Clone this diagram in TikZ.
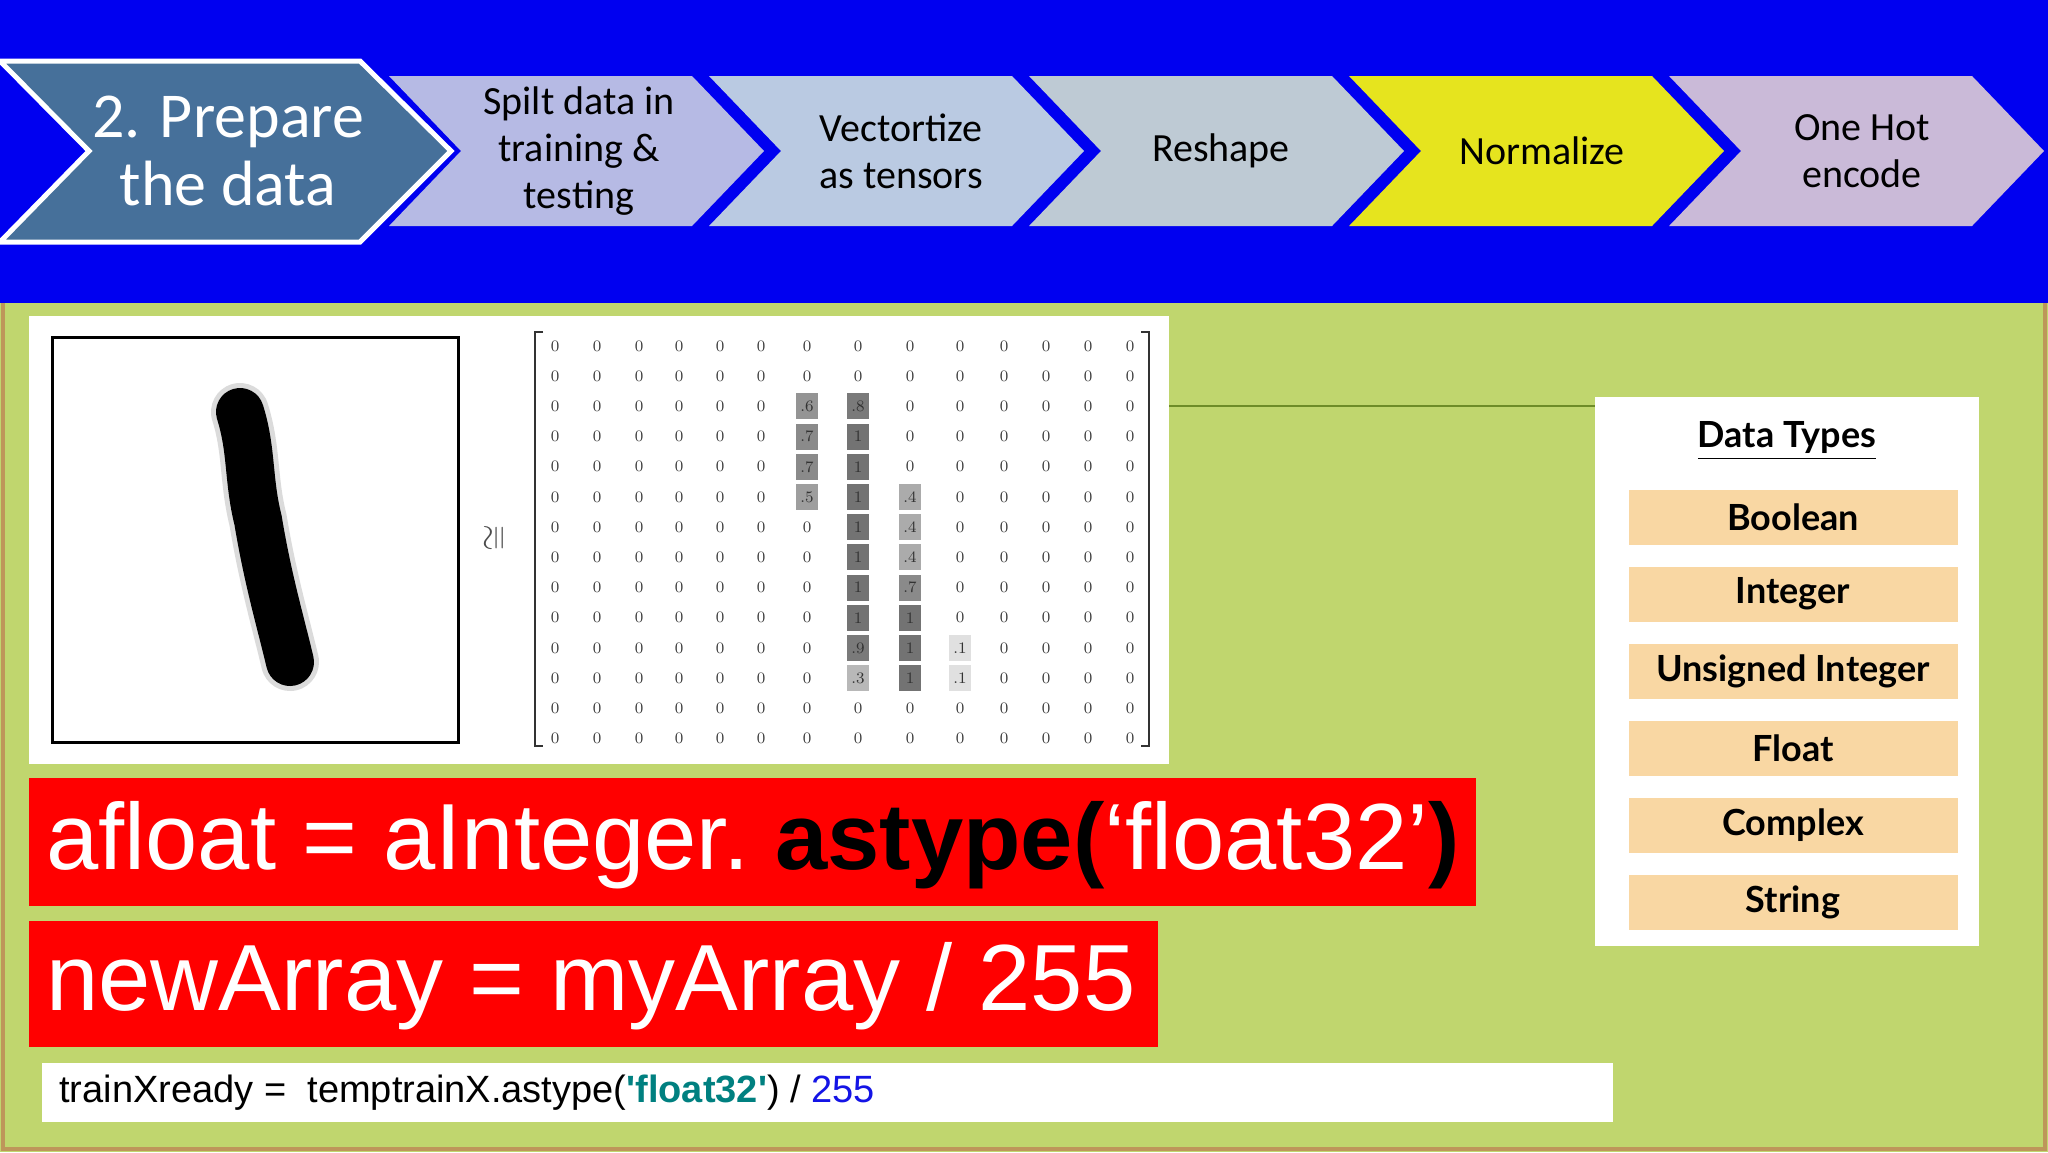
\documentclass[tikz,border=0pt]{standalone}
\usepackage{fontspec}
\setmainfont{Carlito}
\newfontfamily\arialf{Liberation Sans}
\newfontfamily\latof{Lato}
\newfontfamily\lmf{Latin Modern Roman}
\usepackage{amssymb}
\definecolor{topblue}{RGB}{0,0,240}
\definecolor{bggreen}{RGB}{192,214,110}
\definecolor{chevA}{RGB}{70,112,154}
\definecolor{chevB}{RGB}{182,186,228}
\definecolor{chevC}{RGB}{186,202,226}
\definecolor{chevD}{RGB}{190,202,212}
\definecolor{chevE}{RGB}{230,228,30}
\definecolor{chevF}{RGB}{202,186,216}
\definecolor{peach}{RGB}{249,215,163}
\definecolor{redbox}{RGB}{255,0,0}
\definecolor{tealc}{RGB}{0,128,128}
\definecolor{codeblue}{RGB}{20,20,230}
\tikzset{
 chevtext/.style={align=center,font=\fontsize{20}{23.5}\selectfont,text=black},
 dtbox/.style={fill=peach,minimum width=164.5pt,minimum height=27.5pt,inner sep=0pt,font=\latof\bfseries\fontsize{18}{20}\selectfont},
 cell/.style={font=\lmf\fontsize{8}{9}\selectfont,text=black!75,inner sep=1pt},
 bigcode/.style={anchor=west,text=white,font=\arialf\fontsize{47}{50}\selectfont,inner sep=0pt}
}
\begin{document}
\begin{tikzpicture}[x=0.5pt,y=-0.5pt]
\useasboundingbox (0,0) rectangle (2048,1152);
\fill[topblue] (0,0) rectangle (2048,303);
\fill[bggreen] (0,303) rectangle (2048,1152);
\draw[color={rgb,255:red,190;green,150;blue,90},line width=2pt] (3,303) -- (3,1149) -- (2045,1149) -- (2045,303);
\draw[white,line width=2.5pt,fill=chevA] (0,61) -- (360,61) -- (451,151) -- (360,242) -- (0,242) -- (89,151) -- cycle;
\node[align=center,text=white,font=\fontsize{32}{34}\selectfont] (c1) at (228,151) {2. Prepare\\the data};
\foreach \i/\col in {0/chevB,1/chevC,2/chevD,3/chevE,4/chevF}{
  \fill[\col] ({389+320*\i},76) -- ({389+320*\i+303},76) -- ({389+320*\i+375},151) -- ({389+320*\i+303},226) -- ({389+320*\i},226) -- ({389+320*\i+72},151) -- cycle;
}
\node[chevtext] (c2) at (579,151) {Spilt data in\\training \&\\testing};
\node[chevtext] (c3) at (901,151) {Vectortize\\as tensors};
\node[chevtext] (c4) at (1221,151) {Reshape};
\node[chevtext] (c5) at (1542,151) {Normalize};
\node[chevtext] (c6) at (1862,151) {One Hot\\encode};
\fill[white] (29,316) rectangle (1169,764);
\draw[line width=1.5pt] (52,337) rectangle (458,742);
\draw[black!40,line width=29pt,line cap=round,line join=round,opacity=0.35] (240,412) .. controls (252,450) and (248,480) .. (258,520) .. controls (268,580) and (280,620) .. (290,662);
\draw[black,line width=24pt,line cap=round,line join=round] (240,412) .. controls (252,450) and (248,480) .. (258,520) .. controls (268,580) and (280,620) .. (290,662);
\node[rotate=90,font=\fontsize{16}{16}\selectfont,text=black!70] (cong) at (496,538) {$\cong$};
\draw[black!80,line width=1.2pt] (543,332) -- (535,332) -- (535,746) -- (543,746);
\draw[black!80,line width=1.2pt] (1141,332) -- (1149,332) -- (1149,746) -- (1141,746);
\def\colx{{555,597,639,679,720,761,807,858,910,960,1004,1046,1088,1130}}
\foreach \r/\c/\v/\s in {2/6/.6/42,2/7/.8/52,3/6/.7/46,3/7/1/55,4/6/.7/46,4/7/1/55,5/6/.5/38,5/7/1/55,5/8/.4/33,6/7/1/55,6/8/.4/33,7/7/1/55,7/8/.4/33,8/7/1/55,8/8/.7/46,9/7/1/55,9/8/1/55,10/7/.9/52,10/8/1/55,10/9/.1/12,11/7/.3/28,11/8/1/55,11/9/.1/12}{
  \pgfmathsetmacro\xx{\colx[\c]}
  \fill[black!\s] (\xx-11,{346+30.2*\r-13}) rectangle (\xx+11,{346+30.2*\r+13});
  \node[cell,text=black!80] at (\xx,{346+30.2*\r}) {\v};
}
\foreach \r in {0,...,13}{
 \foreach \c in {0,...,13}{
  \pgfmathsetmacro\xx{\colx[\c]}
  \pgfmathtruncatemacro\skip{
    (\r==2 && (\c==6 || \c==7)) || ((\r==3 || \r==4) && (\c==6 || \c==7)) || (\r==5 && \c>=6 && \c<=8) ||
    ((\r>=6 && \r<=9) && (\c==7 || \c==8)) || ((\r==10 || \r==11) && \c>=7 && \c<=9) }
  \ifnum\skip=0 \node[cell] at (\xx,{346+30.2*\r}) {0};\fi
 }
}
\coordinate (lstart) at (1169,406);
\coordinate (lend) at (1596,406);
\draw[color={rgb,255:red,110;green,140;blue,40},line width=1pt] (lstart) -- (lend);
\fill[white] (1595,397) rectangle (1979,946);
\node[font=\latof\bfseries\fontsize{18}{20}\selectfont] (dt) at (1787,441) {\underline{Data Types}};
\foreach \n/\t/\y in {b1/Boolean/517,b2/Integer/594,b3/Unsigned Integer/671,b4/Float/748,b5/Complex/825,b6/String/902}{
  \node[dtbox] (\n) at (1793,\y) {\t};
}
\fill[redbox] (29,778) rectangle (1476,906);
\node[bigcode] (code1) at (46,845) {afloat = aInteger.~\textcolor{black}{\bfseries astype(}‘float32’\textcolor{black}{\bfseries )}};
\fill[redbox] (29,921) rectangle (1158,1047);
\node[bigcode] (code2) at (46,986) {newArray = myArray / 255};
\fill[white] (42,1063) rectangle (1613,1122);
\node[anchor=west,font=\arialf\fontsize{19}{20}\selectfont,inner sep=0pt] (code3) at (59,1093) {trainXready =\ \ temptrainX.astype(\textcolor{tealc}{\bfseries 'float32'}) / \textcolor{codeblue}{255}};
\end{tikzpicture}
\end{document}
